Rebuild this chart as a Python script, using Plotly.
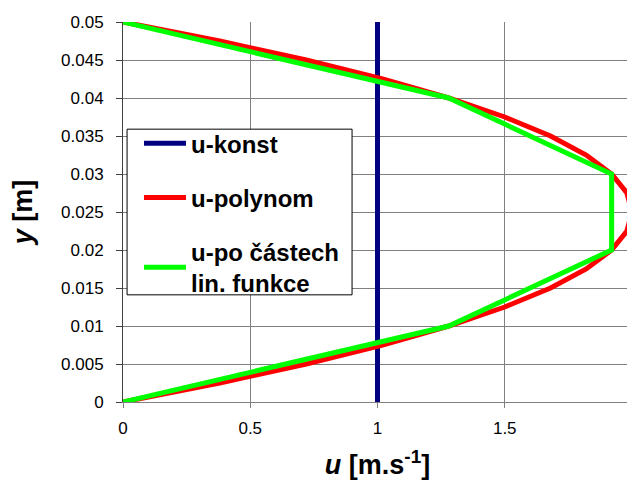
import plotly.graph_objects as go

# data
y_const = [0.0, 0.05]
u_const = [1.0, 1.0]

y_poly = [0.0, 0.0025, 0.005, 0.0075, 0.01, 0.0125, 0.015, 0.0175, 0.02, 0.0225, 0.025,
          0.0275, 0.03, 0.0325, 0.035, 0.0375, 0.04, 0.0425, 0.045, 0.0475, 0.05]
u_poly = [0.0, 0.38, 0.72, 1.02, 1.28, 1.50, 1.68, 1.82, 1.92, 1.98, 2.0,
          1.98, 1.92, 1.82, 1.68, 1.50, 1.28, 1.02, 0.72, 0.38, 0.0]

y_lin = [0.0, 0.01, 0.02, 0.03, 0.04, 0.05]
u_lin = [0.0, 1.28, 1.92, 1.92, 1.28, 0.0]

x_ticks = [0, 0.5, 1, 1.5, 2]
x_tick_labels = ["0", "0.5", "1", "1.5", "2"]
y_ticks = [0, 0.005, 0.01, 0.015, 0.02, 0.025, 0.03, 0.035, 0.04, 0.045, 0.05]
y_tick_labels = ["0", "0.005", "0.01", "0.015", "0.02", "0.025", "0.03", "0.035", "0.04", "0.045", "0.05"]

FONT = "Arial, Liberation Sans, sans-serif"

fig = go.Figure()
fig.add_trace(go.Scatter(x=u_const, y=y_const, mode="lines", name="<b>u-konst</b>",
                         line=dict(color="#000080", width=5), legendgroup="a"))
fig.add_trace(go.Scatter(x=u_poly, y=y_poly, mode="lines", name="<b>u-polynom</b>",
                         line=dict(color="#ff0000", width=5), legendgroup="b"))
fig.add_trace(go.Scatter(x=u_lin, y=y_lin, mode="lines", name="<b>u-po částech<br>lin. funkce</b>",
                         line=dict(color="#00ff00", width=5), legendgroup="c"))

# legend frame
fig.add_shape(type="rect", xref="paper", yref="paper",
              x0=0.008, x1=0.45, y0=0.282, y1=0.718,
              fillcolor="white", line=dict(color="black", width=1), layer="above")

fig.update_layout(
    width=627, height=472,
    margin=dict(l=115, r=3, t=14, b=78, autoexpand=False),
    paper_bgcolor="white", plot_bgcolor="white",
    font=dict(family=FONT, color="black", size=17),
    showlegend=True,
    legend=dict(x=0.0314, y=0.739, xanchor="left", yanchor="top",
                bgcolor="rgba(0,0,0,0)", borderwidth=0,
                font=dict(size=24, color="black", family=FONT),
                tracegroupgap=20, traceorder="grouped", itemwidth=42),
    xaxis=dict(range=[0, 2], tickvals=x_ticks, ticktext=x_tick_labels,
               showgrid=True, gridcolor="#808080", gridwidth=1,
               showline=True, linecolor="#808080", linewidth=1,
               ticks="outside", ticklen=5, tickcolor="#808080",
               ticklabelstandoff=6, ticklabeloverflow="allow", automargin=False,
               zeroline=False, tickfont=dict(size=17),
               title=dict(text="<b><i>u</i> [m.s<sup>-1</sup>]</b>", font=dict(size=27), standoff=18)),
    yaxis=dict(range=[0, 0.05], tickvals=y_ticks, ticktext=y_tick_labels,
               showgrid=True, gridcolor="#808080", gridwidth=1,
               showline=True, linecolor="#404040", linewidth=1,
               ticks="outside", ticklen=6, tickcolor="#404040",
               ticklabelstandoff=9, automargin=False,
               zeroline=False, tickfont=dict(size=17),
               title=dict(text="<b><i>y</i> [m]</b>", font=dict(size=27), standoff=21)),
)
fig.write_html("out.html")
